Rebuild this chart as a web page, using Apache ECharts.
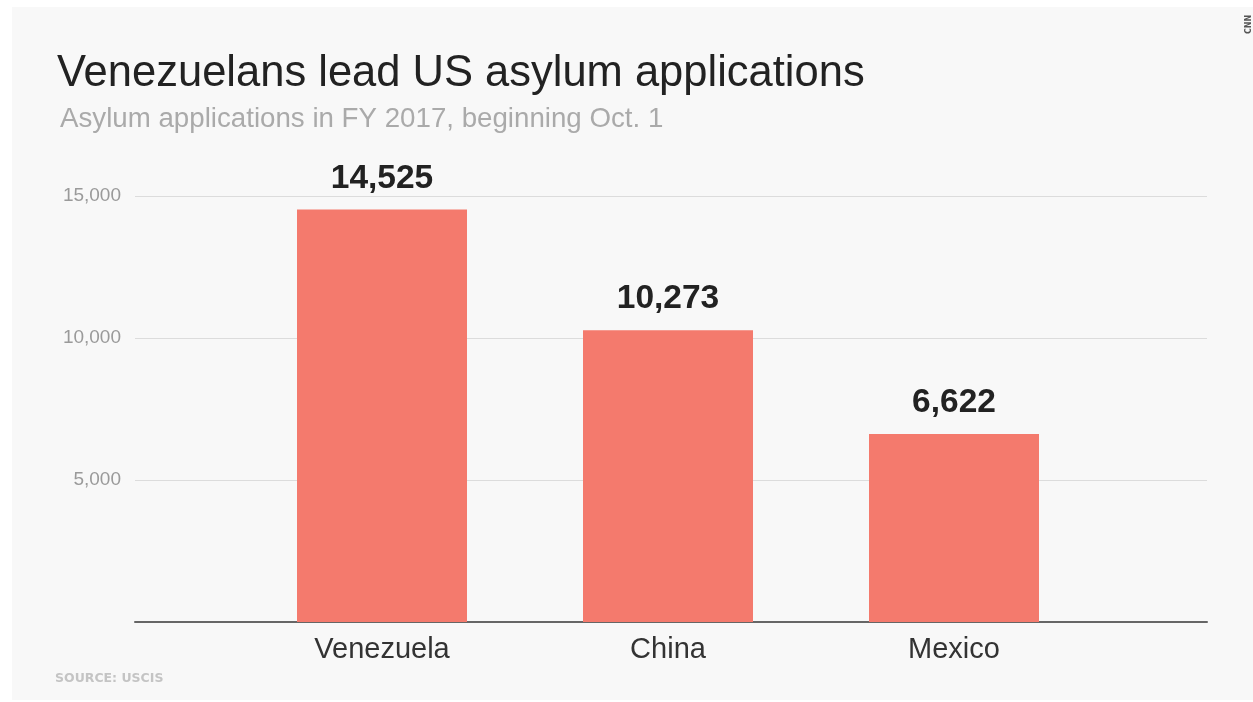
<!DOCTYPE html>
<html>
<head>
<meta charset="utf-8">
<title>Venezuelans lead US asylum applications</title>
<script src="https://cdn.jsdelivr.net/npm/echarts@6/dist/echarts.min.js"></script>
<style>
    html, body { margin: 0; padding: 0; background: #ffffff; }
    #asylum { width: 1253px; height: 702px; }
</style>
</head>
<body>
<div id="asylum"></div>
<script>
    var countries = ['Venezuela', 'China', 'Mexico'];
    var applications = [14525, 10273, 6622];
    var yTicks = [0, 5000, 10000, 15000];

    var chart = echarts.init(document.getElementById('asylum'));
    var font = '"Liberation Sans", Arial, Helvetica, sans-serif';

    var option = {
        backgroundColor: '#ffffff',
        animation: false,
        textStyle: { fontFamily: font },
        title: [
            {
                text: 'Venezuelans lead US asylum applications',
                left: 52,
                top: 47,
                textStyle: { fontSize: 43.5, fontWeight: 'normal', color: '#222222', fontFamily: font }
            },
            {
                text: 'Asylum applications in FY 2017, beginning Oct. 1',
                left: 55,
                top: 100,
                textStyle: { fontSize: 27.7, fontWeight: 'normal', color: '#aaaaaa', fontFamily: font }
            }
        ],
        graphic: [
            {
                type: 'rect',
                z: -10,
                silent: true,
                shape: { x: 12, y: 7, width: 1241, height: 693 },
                style: { fill: '#f8f8f8' }
            },
            {
                type: 'text',
                left: 55,
                top: 672,
                style: {
                    text: 'SOURCE: USCIS',
                    fill: '#c4c4c4',
                    font: 'bold 12.5px "DejaVu Sans", sans-serif'
                }
            },
            {
                type: 'text',
                x: 1245,
                y: 34,
                rotation: Math.PI / 2,
                style: {
                    text: 'CNN',
                    fill: '#555555',
                    font: 'bold 8px "DejaVu Sans", sans-serif'
                }
            }
        ],
        grid: [
            // gridlines + baseline, full width
            { left: 135, right: 46, top: 196, bottom: 80 },
            // bars
            { left: 239, right: 156, top: 196, bottom: 80 }
        ],
        xAxis: [
            {
                type: 'category',
                gridIndex: 0,
                data: [''],
                axisLine: { show: true, lineStyle: { color: '#666666', width: 2 } },
                axisTick: { show: false },
                axisLabel: { show: false }
            },
            {
                type: 'category',
                gridIndex: 1,
                data: countries,
                axisLine: { show: false },
                axisTick: { show: false },
                axisLabel: { margin: 13, fontSize: 29, color: '#333333', fontFamily: font }
            }
        ],
        yAxis: [
            {
                type: 'value',
                gridIndex: 0,
                min: yTicks[0],
                max: yTicks[yTicks.length - 1],
                interval: yTicks[1] - yTicks[0],
                axisLine: { show: false },
                axisTick: { show: false },
                splitLine: { lineStyle: { color: '#dcdcdc', width: 1 } },
                axisLabel: {
                    margin: 14,
                    fontSize: 19,
                    color: '#9a9a9a',
                    fontFamily: font,
                    formatter: function (v) {
                        return v === 0 ? '' : v.toLocaleString('en-US');
                    }
                }
            },
            {
                type: 'value',
                gridIndex: 1,
                min: yTicks[0],
                max: yTicks[yTicks.length - 1],
                interval: yTicks[1] - yTicks[0],
                show: false
            }
        ],
        series: [
            {
                type: 'bar',
                xAxisIndex: 1,
                yAxisIndex: 1,
                data: applications,
                barWidth: 170,
                itemStyle: { color: '#f47a6d' },
                label: {
                    show: true,
                    position: 'top',
                    distance: 14,
                    fontSize: 33.5,
                    fontWeight: 'bold',
                    color: '#222222',
                    fontFamily: font,
                    formatter: function (p) {
                        return p.value.toLocaleString('en-US');
                    }
                }
            }
        ]
    };
    chart.setOption(option);
</script>
</body>
</html>
